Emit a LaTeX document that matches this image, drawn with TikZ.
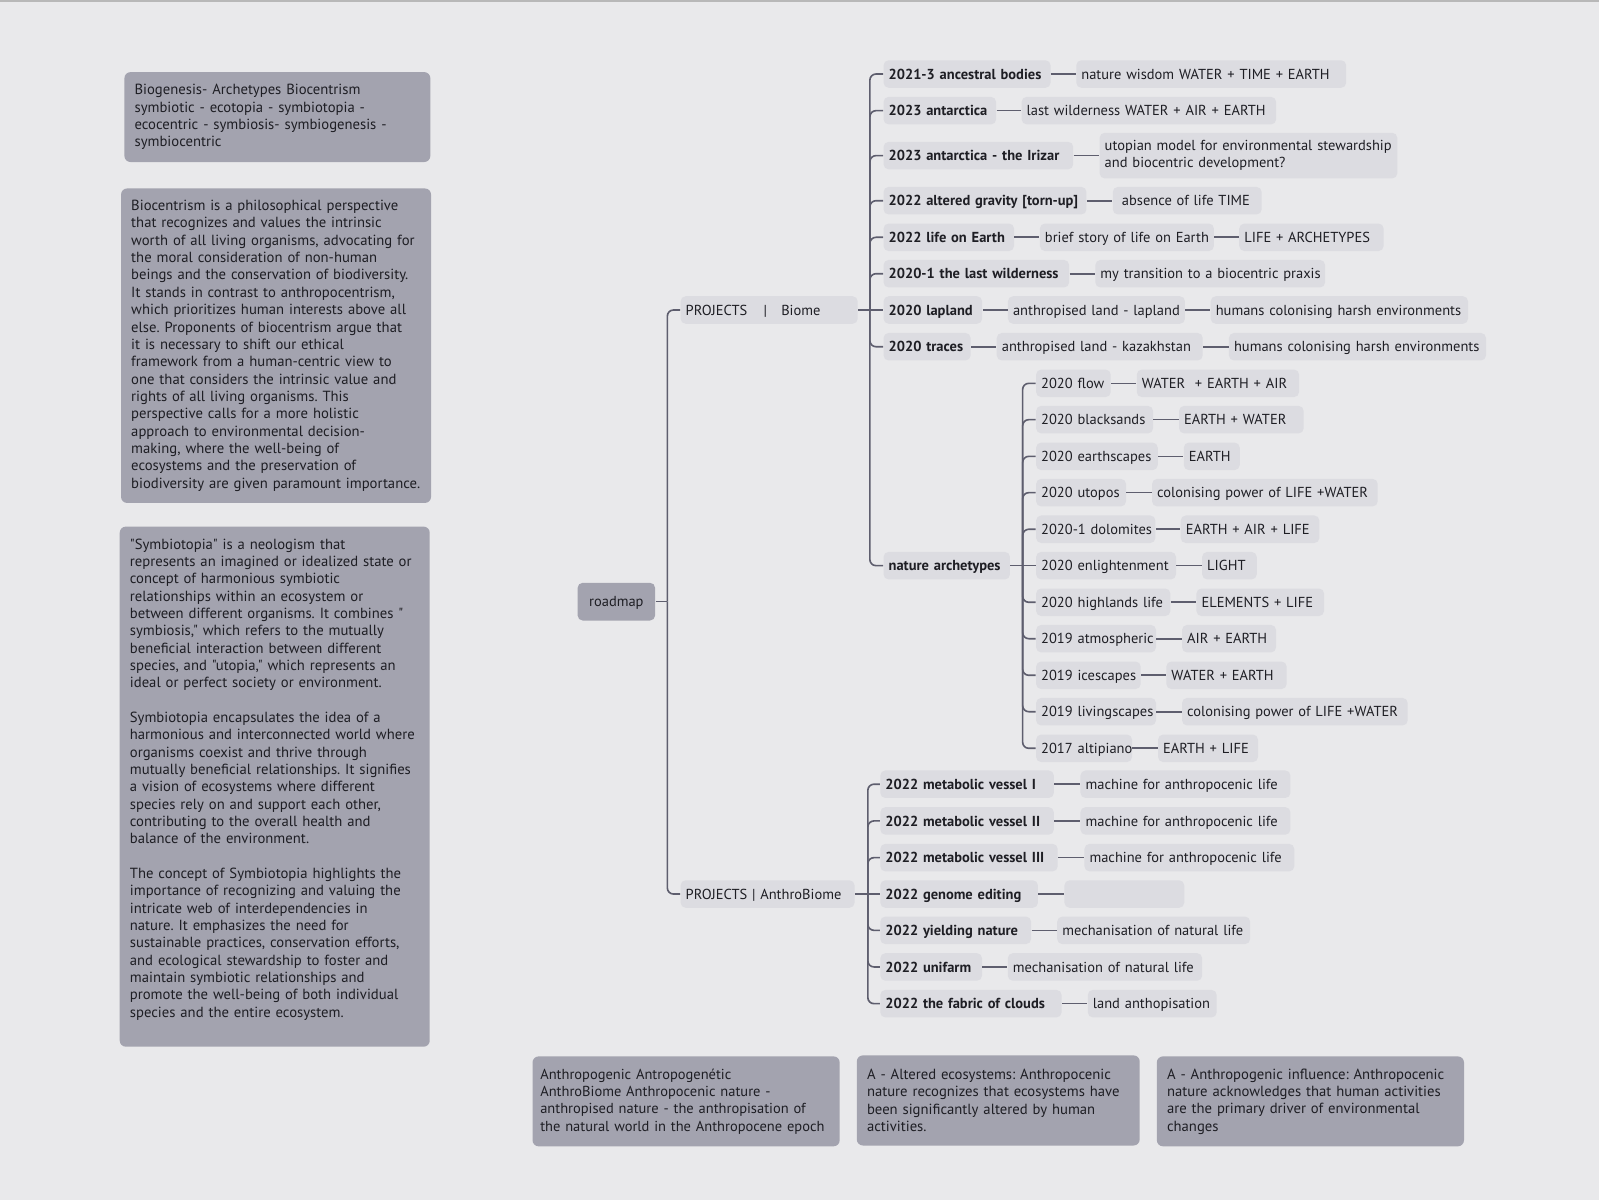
\documentclass[tikz,border=0pt]{standalone}
\usepackage{fontspec}
\setmainfont{PT Sans}[Ligatures=TeXOff]
\frenchspacing
\definecolor{paper}{HTML}{E9E9EB}
\definecolor{slate}{HTML}{A3A3AF}
\definecolor{leaf}{HTML}{DCDCE1}
\definecolor{linegrey}{HTML}{5E5E6E}
\definecolor{ink}{HTML}{1E1E24}
\newcommand{\mapfont}{\fontsize{7.1}{8.5}\selectfont}
\newcommand{\notefont}{\fontsize{7.2}{8.5}\selectfont}

\begin{document}
\begin{tikzpicture}[x=0.5pt, y=-0.5pt]
  \tikzstyle{note}=[anchor=north west, fill=slate, rounded corners=3pt, inner xsep=5pt, inner ysep=0pt, align=left, text=ink, font=\notefont]
  \tikzstyle{pill}=[anchor=west, fill=leaf, rounded corners=2.5pt, inner xsep=2.5pt, inner ysep=0pt, minimum height=13.5pt, align=left, text=ink, font=\mapfont]
  \tikzstyle{item}=[pill, text height=6pt, text depth=1pt, execute at begin node=\hbox\bgroup, execute at end node=\egroup]
  \tikzstyle{year}=[item, font=\mapfont\bfseries]
  \tikzstyle{link}=[draw=linegrey, line width=0.8pt]
  \tikzstyle{branch}=[link, rounded corners=3pt]
  \tikzstyle{every edge}=[link]
  \tikzset{bw/.code={\pgfmathsetlengthmacro\boxwd{#1*0.5pt-5pt}\pgfkeysalso{text width=\boxwd}}}

  \useasboundingbox (0,0) rectangle (1568,1176);
  \fill[paper] (-6,-6) rectangle (1574,1182);
  \draw[black!28, line width=0.8pt] (-6,0.8) -- (1574,0.8);

  % notes on the left and at the bottom
  \node[note, text width=140pt, minimum height=44.1pt] (tags) at (121.6,70.3)
    {Biogenesis- Archetypes Biocentrism\\symbiotic - ecotopia - symbiotopia -\\ecocentric - symbiosis- symbiogenesis -\\symbiocentric};
  \node[note, text width=142pt, minimum height=154.2pt] (biocentrism) at (118.3,184.4)
    {Biocentrism is a philosophical perspective\\that recognizes and values the intrinsic\\worth of all living organisms, advocating for\\the moral consideration of non-human\\beings and the conservation of biodiversity.\\It stands in contrast to anthropocentrism,\\which prioritizes human interests above all\\else. Proponents of biocentrism argue that\\it is necessary to shift our ethical\\framework from a human-centric view to\\one that considers the intrinsic value and\\rights of all living organisms. This\\perspective calls for a more holistic\\approach to environmental decision-\\making, where the well-being of\\ecosystems and the preservation of\\biodiversity are given paramount importance.};
  \node[note, text width=142pt, minimum height=255pt] (symbiotopia) at (117,516)
    {"Symbiotopia" is a neologism that\\represents an imagined or idealized state or\\concept of harmonious symbiotic\\relationships within an ecosystem or\\between different organisms. It combines "\\symbiosis," which refers to the mutually\\beneficial interaction between different\\species, and "utopia," which represents an\\ideal or perfect society or environment.\\[8.5pt]Symbiotopia encapsulates the idea of a\\harmonious and interconnected world where\\organisms coexist and thrive through\\mutually beneficial relationships. It signifies\\a vision of ecosystems where different\\species rely on and support each other,\\contributing to the overall health and\\balance of the environment.\\[8.5pt]The concept of Symbiotopia highlights the\\importance of recognizing and valuing the\\intricate web of interdependencies in\\nature. It emphasizes the need for\\sustainable practices, conservation efforts,\\and ecological stewardship to foster and\\maintain symbiotic relationships and\\promote the well-being of both individual\\species and the entire ecosystem.\\~};
  \node[note, font=\mapfont, inner xsep=3.8pt, text width=143pt, minimum height=44.1pt] (anthropogenic) at (521.8,1035.5)
    {Anthropogenic Antropogenétic\\AnthroBiome Anthropocenic nature -\\anthropised nature - the anthropisation of\\the natural world in the Anthropocene epoch};
  \node[note, text width=128.7pt, minimum height=44.2pt] (altered) at (839.8,1034.5)
    {A - Altered ecosystems: Anthropocenic\\nature recognizes that ecosystems have\\been significantly altered by human\\activities.};
  \node[note, text width=140.6pt, minimum height=44.1pt] (influence) at (1134,1035.5)
    {A - Anthropogenic influence: Anthropocenic\\nature acknowledges that human activities\\are the primary driver of environmental\\changes};

  % the map
  \node[pill, fill=slate, minimum height=18.5pt, bw=76, align=center, text height=6pt, text depth=1pt] (root) at (566,590) {roadmap};
  \node[item, bw=173.7] (biome)  at (667,304)   {PROJECTS\hspace{8pt}|\hspace{7pt}Biome};
  \node[item, bw=170.6] (anthro) at (667,876.7) {PROJECTS | AnthroBiome};

  \node[year, bw=163.8] (b1)  at (866,72.6)    {2021-3 ancestral bodies};
  \node[item, bw=264.7] (b1a) at (1055,72.6)   {nature wisdom WATER + TIME + EARTH};
  \node[year, bw=110.4] (b2)  at (866,108.5)   {2023 antarctica};
  \node[item, bw=249.6] (b2a) at (1001.4,108.5) {last wilderness WATER + AIR + EARTH};
  \node[year, bw=186]   (b3)  at (866,152.6)   {2023 antarctica - the Irizar};
  \node[pill, bw=291.9, minimum height=22.4pt] (b3a) at (1077.9,152.6) {utopian model for environmental stewardship\\and biocentric development?};
  \node[year, bw=199]   (b4)  at (866,196.8)   {2022 altered gravity [torn-up]};
  \node[item, bw=146]   (b4a) at (1090.8,196.8) {\hspace{2pt}absence of life TIME};
  \node[year, bw=128]   (b5)  at (866,232.7)   {2022 life on Earth};
  \node[item, bw=170.7] (b5a) at (1019.3,232.7) {brief story of life on Earth};
  \node[item, bw=141.6] (b5b) at (1214.8,232.7) {LIFE + ARCHETYPES};
  \node[year, bw=182]   (b6)  at (866,268.4)   {2020-1 the last wilderness};
  \node[item, bw=225.3] (b6a) at (1073.7,268.4) {my transition to a biocentric praxis};
  \node[year, bw=96.7]  (b7)  at (866,304)     {2020 lapland};
  \node[item, bw=173.6] (b7a) at (988,304)     {anthropised land - lapland};
  \node[item, bw=252.4] (b7b) at (1186.8,304)  {humans colonising harsh environments};
  \node[year, bw=85.4]  (b8)  at (866,340)     {2020 traces};
  \node[item, bw=202]   (b8a) at (977,340)     {anthropised land - kazakhstan};
  \node[item, bw=252.1] (b8b) at (1204.7,340)  {humans colonising harsh environments};
  \node[year, bw=124]   (b9)  at (866,554.7)   {nature archetypes};

  \node[item, bw=73.2]  (a1)  at (1015.6,375.9) {2020 flow};
  \node[item, bw=159.2] (a1a) at (1114.3,375.9) {WATER~ + EARTH + AIR};
  \node[item, bw=114.7] (a2)  at (1015.6,411.5) {2020 blacksands};
  \node[item, bw=122.2] (a2a) at (1155.8,411.5) {EARTH + WATER};
  \node[item, bw=119.3] (a3)  at (1015.6,447.5) {2020 earthscapes};
  \node[item, bw=54.9]  (a3a) at (1160.4,447.5) {EARTH};
  \node[item, bw=88.2]  (a4)  at (1015.6,483.1) {2020 utopos};
  \node[item, bw=221.3] (a4a) at (1129.3,483.1) {colonising power of LIFE +WATER};
  \node[item, bw=117]   (a5)  at (1015.6,519)   {2020-1 dolomites};
  \node[item, bw=136]   (a5a) at (1157.4,519)   {EARTH + AIR + LIFE};
  \node[item, bw=137.2] (a6)  at (1015.6,554.7) {2020 enlightenment};
  \node[item, bw=53.6]  (a6a) at (1178.4,554.7) {LIGHT};
  \node[item, bw=131.7] (a7)  at (1015.6,590.6) {2020 highlands life};
  \node[item, bw=125.2] (a7a) at (1172.8,590.6) {ELEMENTS + LIFE};
  \node[item, bw=117.6] (a8)  at (1015.6,626.3) {2019 atmospheric};
  \node[item, bw=92.2]  (a8a) at (1158.7,626.3) {AIR + EARTH};
  \node[item, bw=102.6] (a9)  at (1015.6,662.2) {2019 icescapes};
  \node[item, bw=118]   (a9a) at (1143.3,662.2) {WATER + EARTH};
  \node[item, bw=117.6] (a10)  at (1015.6,697.9) {2019 livingscapes};
  \node[item, bw=221.3] (a10a) at (1158.7,697.9) {colonising power of LIFE +WATER};
  \node[item, bw=94.1]  (a11)  at (1015.6,733.8) {2017 altipiano};
  \node[item, bw=98]    (a11a) at (1135.2,733.8) {EARTH + LIFE};

  \node[year, bw=170.2] (p1)  at (862.8,769)   {2022 metabolic vessel I};
  \node[item, bw=205.9] (p1a) at (1059.1,769)  {machine for anthropocenic life};
  \node[year, bw=170.2] (p2)  at (862.8,805)   {2022 metabolic vessel II};
  \node[item, bw=205.9] (p2a) at (1059.1,805)  {machine for anthropocenic life};
  \node[year, bw=174]   (p3)  at (862.8,841)   {2022 metabolic vessel III};
  \node[item, bw=205.8] (p3a) at (1063,841)    {machine for anthropocenic life};
  \node[year, bw=154.6] (p4)  at (862.8,876.7) {2022 genome editing};
  \node[item, bw=117.5] (p4a) at (1043.4,876.7) {};
  \node[year, bw=147.9] (p5)  at (862.8,912.3) {2022 yielding nature};
  \node[item, bw=189.2] (p5a) at (1036.3,912.3) {mechanisation of natural life};
  \node[year, bw=99.8]  (p6)  at (862.8,948.2) {2022 unifarm};
  \node[item, bw=190.7] (p6a) at (987.8,948.2) {mechanisation of natural life};
  \node[year, bw=177.8] (p7)  at (862.8,984.2) {2022 the fabric of clouds};
  \node[item, bw=126.4] (p7a) at (1066.3,984.2) {land anthopisation};

  \coordinate (trunk)     at (654.4,590);
  \coordinate (biomebar)  at (853,304);
  \coordinate (archbar)   at (1002.8,554.7);
  \coordinate (anthrobar) at (851,876.7);

  % tree connectors
  \draw[link] (root.east) -- (trunk);
  \draw[branch] (trunk) |- (biome.west);
  \draw[branch] (trunk) |- (anthro.west);

  \draw[link] (biome.east) -- (biomebar) -- (b7.west);
  \foreach \n in {b1,b2,b3,b4,b5,b6,b8,b9}
    \draw[branch] (biomebar) |- (\n.west);

  \draw[link] (b9.east) -- (archbar) -- (a6.west);
  \foreach \i in {1,...,5,7,8,...,11}
    \draw[branch] (archbar) |- (a\i.west);

  \draw[link] (anthro.east) -- (anthrobar) -- (p4.west);
  \foreach \i in {1,2,3,5,6,7}
    \draw[branch] (anthrobar) |- (p\i.west);

  % leaf connectors
  \path (b1) edge (b1a);
  \path (b2) edge (b2a);
  \path (b3) edge (b3a);
  \path (b4) edge (b4a);
  \path (b5) edge (b5a);
  \path (b5a) edge (b5b);
  \path (b6) edge (b6a);
  \path (b7) edge (b7a);
  \path (b7a) edge (b7b);
  \path (b8) edge (b8a);
  \path (b8a) edge (b8b);

  \path (a1) edge (a1a);
  \path (a2) edge (a2a);
  \path (a3) edge (a3a);
  \path (a4) edge (a4a);
  \path (a5) edge (a5a);
  \path (a6) edge (a6a);
  \path (a7) edge (a7a);
  \path (a8) edge (a8a);
  \path (a9) edge (a9a);
  \path (a10) edge (a10a);
  \path (a11) edge (a11a);

  \path (p1) edge (p1a);
  \path (p2) edge (p2a);
  \path (p3) edge (p3a);
  \path (p4) edge (p4a);
  \path (p5) edge (p5a);
  \path (p6) edge (p6a);
  \path (p7) edge (p7a);
\end{tikzpicture}
\end{document}
